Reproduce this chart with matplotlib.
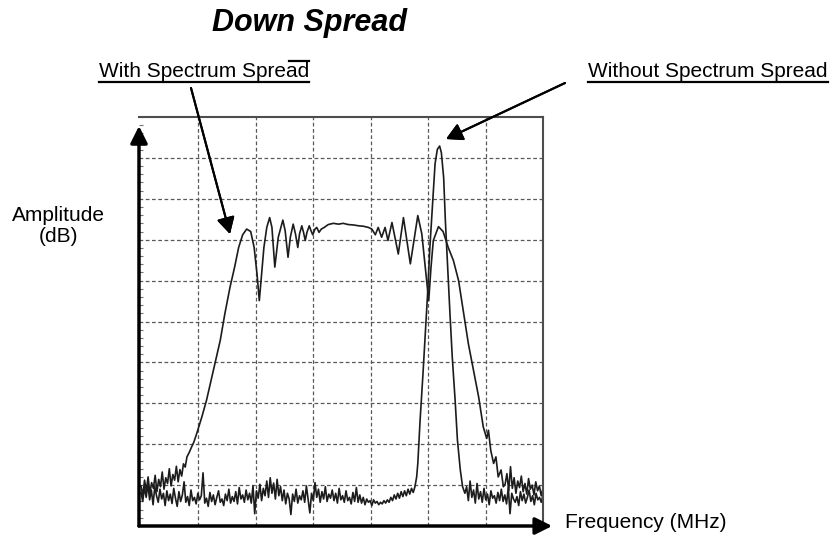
import numpy as np
import matplotlib
matplotlib.use("Agg")
import matplotlib.pyplot as plt
from matplotlib.lines import Line2D
from matplotlib.ticker import MultipleLocator

plt.rcParams['font.family'] = ['Liberation Sans', 'DejaVu Sans']

W, H = 840, 535

# grid units: x 0..7 columns, y 0..10 rows

# "without spread" trace: noise floor left of the carrier
floor_left_wo = [
    0.82, 0.60, 0.95, 0.70, 1.02, 0.64, 0.88, 0.52, 0.96, 0.74, 0.58, 0.90, 0.66, 0.80, 0.50, 0.86,
    0.62, 0.78, 0.55, 0.92, 0.68, 0.48, 0.84, 0.60, 0.76, 1.08, 0.58, 0.72, 0.50, 0.88, 0.62, 0.70,
    0.54, 0.80, 0.64, 0.74, 1.30, 0.56, 0.68, 0.48, 0.82, 0.60, 0.76, 0.52, 0.70, 0.86, 0.58, 0.66,
    0.50, 0.78, 0.62, 0.90, 0.56, 0.72, 0.60, 0.84, 0.54, 0.94, 0.66, 0.76, 0.58, 0.88, 0.64, 0.80,
    0.56, 0.98, 0.30, 0.86, 0.68, 1.02, 0.62, 0.92, 0.74, 1.10, 0.70, 1.18, 0.80, 1.05, 0.66, 1.14,
    0.74, 0.96, 0.62, 0.88, 0.54, 0.80, 0.66, 0.28, 0.78, 0.60, 0.90, 0.56, 0.74, 0.64, 0.86, 0.58,
    0.98, 0.66, 0.32, 0.80, 0.62, 1.06, 0.70, 0.90, 0.58, 0.84, 0.66, 0.96, 0.60, 0.78, 0.68, 0.88,
    0.62, 0.80, 0.56, 0.92, 0.64, 0.74, 0.58, 0.86, 0.62, 0.70, 0.54, 0.82, 0.60, 0.94, 0.58, 0.76,
    0.56, 0.70, 0.52, 0.66, 0.58, 0.62, 0.50, 0.64, 0.56, 0.60, 0.52, 0.58, 0.54, 0.62, 0.56, 0.64,
    0.58, 0.70, 0.62, 0.76, 0.66, 0.80, 0.68, 0.84, 0.72, 0.86, 0.74, 0.90, 0.78, 0.92, 0.82, 0.96,
]
floor_left_wo_x = np.linspace(0, 4.77, len(floor_left_wo))

# the single carrier peak
peak_x = [4.80, 4.82, 4.86, 4.91, 4.95, 4.99, 5.03, 5.08, 5.12, 5.16, 5.20, 5.23,
          5.27, 5.30, 5.34, 5.38, 5.42, 5.47, 5.51, 5.56, 5.60, 5.64]
peak_y = [1.20, 1.53, 2.59, 3.72, 4.70, 5.67, 6.81, 7.95, 8.85, 9.21, 9.29, 9.13,
          8.52, 7.46, 6.33, 5.19, 4.13, 3.07, 2.10, 1.37, 0.96, 0.80]

floor_right_wo = [
    0.96, 0.62, 1.10, 0.70, 0.88, 0.56, 1.04, 0.66, 0.84, 0.58, 0.92, 0.64, 0.78, 0.52, 0.86, 0.68,
    0.74, 0.56, 0.82, 0.62, 0.90, 0.60, 0.76, 0.54, 0.94, 0.30, 0.80, 0.66, 0.58, 0.72, 0.50, 0.84,
    0.62, 0.78, 0.56, 0.70, 0.88, 0.60, 0.74, 0.52, 0.80, 0.64, 0.70, 0.58, 0.76,
]
floor_right_wo_x = np.linspace(5.67, 7.0, len(floor_right_wo))

# "with spread" trace
floor_left_w = [
    0.98, 0.74, 1.12, 0.86, 1.20, 0.80, 1.06, 0.92, 1.24, 0.84, 1.14, 0.96, 1.32, 0.90, 1.18, 1.04,
    1.40, 0.98, 1.26, 1.12, 1.46, 1.08, 1.38, 1.22, 1.52, 1.44,
]
floor_left_w_x = np.linspace(0, 0.77, len(floor_left_w))

spread_x = [0.80, 0.84, 0.88, 0.92, 0.97, 1.06, 1.14, 1.26, 1.38, 1.46, 1.55, 1.63, 1.70, 1.77,
            1.84, 1.91, 1.97, 2.02, 2.06, 2.09, 2.14, 2.19, 2.24, 2.28, 2.33, 2.39, 2.47, 2.51,
            2.56, 2.60, 2.65, 2.69, 2.73, 2.76, 2.80, 2.83, 2.86, 2.89, 2.93, 2.96, 2.99, 3.03,
            3.06, 3.10, 3.14, 3.19, 3.26, 3.35, 3.44, 3.52, 3.61, 3.70, 3.79, 3.87, 3.96, 4.02,
            4.08, 4.13, 4.19, 4.25, 4.30, 4.37, 4.48, 4.57, 4.69, 4.82, 4.89, 4.95, 5.01, 5.05,
            5.09, 5.18, 5.26, 5.35, 5.44, 5.53, 5.62, 5.70, 5.79, 5.88, 5.96, 6.02, 6.05, 6.09,
            6.14, 6.18, 6.22, 6.27, 6.31]
spread_y = [1.69, 1.80, 1.93, 2.05, 2.26, 2.67, 3.07, 3.80, 4.54, 5.19, 5.84, 6.33, 6.81, 7.12,
            7.26, 7.20, 6.81, 6.16, 5.51, 6.00, 6.81, 7.30, 7.54, 7.30, 6.33, 7.06, 7.48, 7.22,
            6.57, 7.06, 7.38, 7.14, 6.81, 7.14, 7.34, 7.18, 6.98, 7.18, 7.34, 7.22, 7.12, 7.26,
            7.30, 7.18, 7.26, 7.30, 7.37, 7.40, 7.38, 7.40, 7.37, 7.36, 7.34, 7.33, 7.30, 7.26,
            7.12, 7.30, 7.06, 7.30, 6.98, 7.42, 6.65, 7.54, 6.41, 7.59, 7.14, 6.33, 5.51, 6.33,
            6.98, 7.32, 7.20, 6.81, 6.49, 6.00, 5.19, 4.46, 3.80, 3.15, 2.42, 2.14, 2.34, 1.85,
            1.53, 1.69, 1.20, 1.37, 0.96]

floor_right_w = [
    1.02, 1.28, 0.86, 1.45, 0.92, 1.18, 0.80, 1.10, 0.94, 1.22, 0.84, 1.04, 0.78, 1.16, 0.90, 1.00,
    0.76, 1.08, 0.86, 0.98, 0.74, 0.92,
]
floor_right_w_x = np.linspace(6.34, 7.0, len(floor_right_w))

wo_x = np.concatenate([floor_left_wo_x, peak_x, floor_right_wo_x])
wo_y = np.concatenate([floor_left_wo, peak_y, floor_right_wo])
w_x = np.concatenate([floor_left_w_x, spread_x, floor_right_w_x])
w_y = np.concatenate([floor_left_w, spread_y, floor_right_w])


def px(x, y):
    # pixel position (from top-left) -> figure fraction
    return (x / W, 1 - y / H)


fig = plt.figure(figsize=(W / 100, H / 100), dpi=100)
ax = fig.add_axes([139 / W, 1 - 526 / H, (543 - 139) / W, (526 - 117) / H])
ax.set_xlim(-0.035, 7)
ax.set_ylim(0, 10)

ax.set_xticks(range(1, 7))
ax.set_yticks(range(1, 10))
ax.yaxis.set_minor_locator(MultipleLocator(0.2))
ax.tick_params(which='major', length=0, labelleft=False, labelbottom=False)
ax.tick_params(which='minor', direction='in', length=3, color='0.45', width=0.8)
ax.grid(True, ls=(0, (3, 2)), color='0.35', lw=0.9)

for side in ['left', 'bottom']:
    ax.spines[side].set_visible(False)
for side in ['top', 'right']:
    ax.spines[side].set_color('0.3')
    ax.spines[side].set_linewidth(1.5)

ax.plot(wo_x, wo_y, color='#1c1c1c', lw=1.2)
ax.plot(w_x, w_y, color='#1c1c1c', lw=1.2)

# axis arrows
ax.annotate('', xy=(-0.035, 9.78), xytext=(-0.035, 0),
            arrowprops=dict(arrowstyle='-|>,head_length=0.6,head_width=0.3', lw=2.5,
                            color='black', mutation_scale=17, shrinkA=0, shrinkB=0),
            annotation_clip=False)
ax.annotate('', xy=(7.16, 0), xytext=(-0.035, 0),
            arrowprops=dict(arrowstyle='-|>,head_length=0.6,head_width=0.3', lw=2.5,
                            color='black', mutation_scale=17, shrinkA=0, shrinkB=0),
            annotation_clip=False)

# text
fig.text(*px(309, 31), 'Down Spread', fontsize=22, fontweight='bold', fontstyle='italic',
         ha='center', va='baseline')
t1 = fig.text(*px(99, 77), 'With Spectrum Spread', fontsize=15, ha='left', va='baseline')
t2 = fig.text(*px(588, 77), 'Without Spectrum Spread', fontsize=15, ha='left', va='baseline')
fig.text(*px(58, 226), 'Amplitude\n(dB)', fontsize=15, ha='center', va='center',
         multialignment='center', linespacing=1.1)
fig.text(*px(565, 528), 'Frequency (MHz)', fontsize=15, ha='left', va='baseline')

# underlines under the two labels
fig.canvas.draw()
r = fig.canvas.get_renderer()
for t in [t1, t2]:
    bb = t.get_window_extent(r)
    y = 1 - 82 / H
    fig.add_artist(Line2D([bb.x0 / W, bb.x1 / W], [y, y], color='black', lw=1.6,
                          transform=fig.transFigure))
bb = t1.get_window_extent(r)
fig.add_artist(Line2D([(bb.x1 - 20) / W, bb.x1 / W], [1 - 61 / H, 1 - 61 / H],
                      color='black', lw=1.6, transform=fig.transFigure))

# callout arrows
callout = dict(arrowstyle='-|>,head_length=0.55,head_width=0.3', lw=1.5, color='black',
               mutation_scale=18, shrinkA=0, shrinkB=0)
fig.add_artist(plt.annotate('', xy=px(230, 234), xytext=px(191, 88),
                            xycoords='figure fraction', textcoords='figure fraction',
                            arrowprops=callout))
fig.add_artist(plt.annotate('', xy=px(446, 139), xytext=px(565, 83),
                            xycoords='figure fraction', textcoords='figure fraction',
                            arrowprops=callout))

fig.savefig('out.png', dpi=100)
